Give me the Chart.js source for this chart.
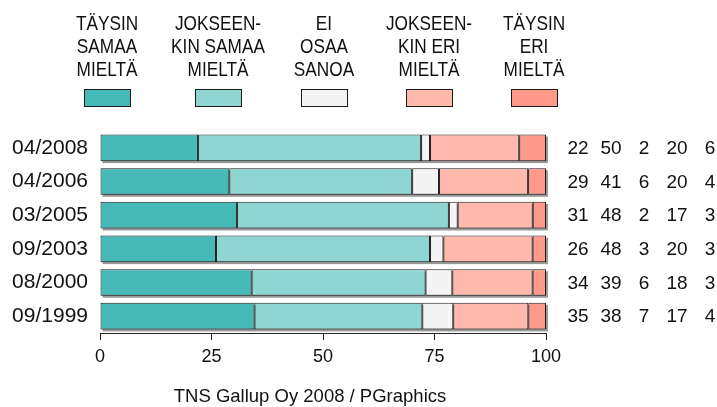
<!DOCTYPE html>
<html>
<head>
<meta charset="utf-8">
<script src="https://cdn.jsdelivr.net/npm/chart.js@4/dist/chart.umd.min.js"></script>
<style>
  html, body { margin: 0; padding: 0; background: #fff; }
  #wrap { width: 717px; height: 407px; }
</style>
</head>
<body>
<div id="wrap"><canvas id="chart" width="717" height="407"></canvas></div>
<script>
// Data
const categories = ['04/2008', '04/2006', '03/2005', '09/2003', '08/2000', '09/1999'];
const seriesNames = [
  ['TÄYSIN', 'SAMAA', 'MIELTÄ'],
  ['JOKSEEN-', 'KIN SAMAA', 'MIELTÄ'],
  ['EI', 'OSAA', 'SANOA'],
  ['JOKSEEN-', 'KIN ERI', 'MIELTÄ'],
  ['TÄYSIN', 'ERI', 'MIELTÄ']
];
const taysinSamaa = [22, 29, 31, 26, 34, 35];
const jokseenkinSamaa = [50, 41, 48, 48, 39, 38];
const eiOsaaSanoa = [2, 6, 2, 3, 6, 7];
const jokseenkinEri = [20, 20, 17, 20, 18, 17];
const taysinEri = [6, 4, 3, 3, 3, 4];
const xTicks = [0, 25, 50, 75, 100];
const caption = 'TNS Gallup Oy 2008 / PGraphics';

// Styles
const COLORS = ['#45bab6', '#8fd6d2', '#f4f4f4', '#ffbaad', '#ff998a'];
const LEGEND_X = [107, 218, 324, 429, 534];
const VALUE_X = [578, 611, 644, 677, 710];
const FONT = 'Liberation Sans, Arial, sans-serif';
const NARROW_SCALE = 0.82; // legend font looks condensed

const allSeries = [taysinSamaa, jokseenkinSamaa, eiOsaaSanoa, jokseenkinEri, taysinEri];
const totals = categories.map((_, i) => allSeries.reduce((s, arr) => s + arr[i], 0));

const datasets = allSeries.map((arr, j) => ({
  label: seriesNames[j].join(' '),
  data: arr.map((v, i) => v / totals[i] * 100),
  backgroundColor: COLORS[j],
  borderColor: '#1a1a1a',
  borderWidth: 1,
  borderSkipped: false,
  barPercentage: 0.79,
  categoryPercentage: 1
}));

// Legend on top, numbers on the right, caption below, bar shadow
const extras = {
  id: 'extras',
  beforeDatasetsDraw(chart) {
    const ctx = chart.ctx;
    const first = chart.getDatasetMeta(0).data;
    const last = chart.getDatasetMeta(allSeries.length - 1).data;
    ctx.save();
    ctx.fillStyle = '#9a9a9a';
    first.forEach((el, i) => {
      const h = el.height;
      const x0 = el.base;
      const x1 = last[i].x;
      ctx.fillRect(x0 + 2, el.y - h / 2 + 2, x1 - x0, h);
    });
    ctx.restore();
  },
  afterDraw(chart) {
    const ctx = chart.ctx;
    const yScale = chart.scales.y;
    ctx.save();
    ctx.fillStyle = '#111';
    ctx.textAlign = 'center';
    ctx.textBaseline = 'middle';

    // legend
    ctx.font = '21px ' + FONT;
    seriesNames.forEach((lines, j) => {
      lines.forEach((t, k) => {
        ctx.save();
        ctx.scale(NARROW_SCALE, 1);
        ctx.fillText(t, LEGEND_X[j] / NARROW_SCALE, 24 + k * 23);
        ctx.restore();
      });
      ctx.fillStyle = COLORS[j];
      ctx.fillRect(LEGEND_X[j] - 23, 89, 46, 17);
      ctx.strokeStyle = '#1a1a1a';
      ctx.lineWidth = 1;
      ctx.strokeRect(LEGEND_X[j] - 22.5, 89.5, 46, 17);
      ctx.fillStyle = '#111';
    });

    // values
    ctx.font = '19px ' + FONT;
    categories.forEach((c, i) => {
      const y = yScale.getPixelForValue(i);
      allSeries.forEach((arr, j) => {
        ctx.fillText(String(arr[i]), VALUE_X[j], y + 1);
      });
    });

    // caption
    ctx.font = '18.5px ' + FONT;
    ctx.fillText(caption, 310, 397);
    ctx.restore();
  }
};

new Chart(document.getElementById('chart'), {
  type: 'bar',
  data: { labels: categories, datasets },
  options: {
    indexAxis: 'y',
    responsive: false,
    animation: false,
    events: [],
    layout: { padding: { top: 131, right: 171, left: 0, bottom: 0 } },
    plugins: {
      legend: { display: false },
      tooltip: { enabled: false },
      title: { display: false }
    },
    scales: {
      x: {
        stacked: true,
        type: 'linear',
        min: 0,
        max: 100,
        afterBuildTicks(scale) {
          scale.ticks = xTicks.map(v => ({ value: v }));
        },
        afterFit(scale) { scale.height = 74; },
        grid: { drawOnChartArea: false, drawTicks: true, tickLength: 7, color: '#222' },
        border: { display: true, color: '#222', width: 1 },
        ticks: { color: '#111', font: { family: FONT, size: 18 }, padding: 6, maxRotation: 0 }
      },
      y: {
        stacked: true,
        afterFit(scale) { scale.width = 100; },
        grid: { display: false, drawTicks: false },
        border: { display: false },
        ticks: { color: '#111', font: { family: FONT, size: 21 }, padding: 12 }
      }
    }
  },
  plugins: [extras]
});
</script>
</body>
</html>
